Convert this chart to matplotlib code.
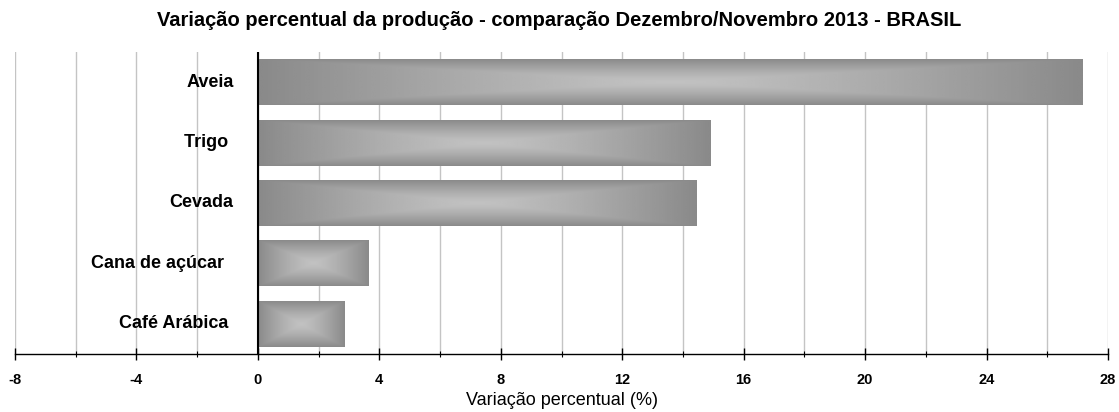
import matplotlib
matplotlib.use("Agg")
import matplotlib.pyplot as plt
import numpy as np

# dados (variação % dez/nov 2013)
culturas = ["Aveia", "Trigo ", "Cevada", "Cana de açúcar  ", "Café Arábica "]
variacao = [27.15, 14.9, 14.45, 3.63, 2.84]

titulo = "Variação percentual da produção - comparação Dezembro/Novembro 2013 - BRASIL"

plt.rcParams["font.family"] = ["Liberation Sans", "DejaVu Sans"]

fig = plt.figure(figsize=(11.19, 4.12), dpi=100)
ax = fig.add_axes([15 / 1119, 1 - 354 / 412, 1093 / 1119, 302 / 412])

ypos = np.arange(len(culturas))[::-1]
bars = ax.barh(ypos, variacao, height=0.76, color="none", edgecolor="none", zorder=3)

# gradiente "do centro" (retangular) em cada barra
n = 200
u = np.linspace(-1, 1, n)
U, V = np.meshgrid(u, u)
t = np.maximum(np.abs(U), np.abs(V))
claro, escuro = 0.76, 0.54
img = claro + (escuro - claro) * t ** 1.3
for b in bars:
    x0, y0 = b.get_x(), b.get_y()
    w, h = b.get_width(), b.get_height()
    im = ax.imshow(img, cmap="gray", vmin=0, vmax=1, extent=[x0, x0 + w, y0, y0 + h],
                   aspect="auto", zorder=3, interpolation="bilinear")
    im.set_clip_path(b)

for y, nome in zip(ypos, culturas):
    ax.text(-0.8, y, nome, ha="right", va="center", fontsize=13, fontweight="bold", zorder=4)

ax.set_xlim(-8, 28)
ax.set_ylim(-0.5, len(culturas) - 0.5)
ax.set_xticks(np.arange(-8, 29, 4))
ax.set_xticks(np.arange(-8, 29, 2), minor=True)
ax.set_xticklabels([str(v) for v in range(-8, 29, 4)], fontweight="bold", fontsize=10.5)
ax.tick_params(axis="x", which="major", direction="inout", length=8, width=1, pad=10)
ax.tick_params(axis="x", which="minor", direction="inout", length=5, width=0.8)
ax.set_yticks([])
ax.grid(axis="x", which="both", color="#c4c4c4", linewidth=1, zorder=0)
ax.axvline(0, color="black", linewidth=1.5, zorder=5)
for s in ["top", "right", "left"]:
    ax.spines[s].set_visible(False)
ax.spines["bottom"].set_linewidth(1)
ax.spines["bottom"].set_zorder(5)

ax.set_xlabel("Variação percentual (%)", fontsize=13, labelpad=3)
fig.text(0.5, 1 - 20 / 412, titulo, ha="center", va="center", fontsize=14.5, fontweight="bold")

fig.savefig("out.png", dpi=100)
